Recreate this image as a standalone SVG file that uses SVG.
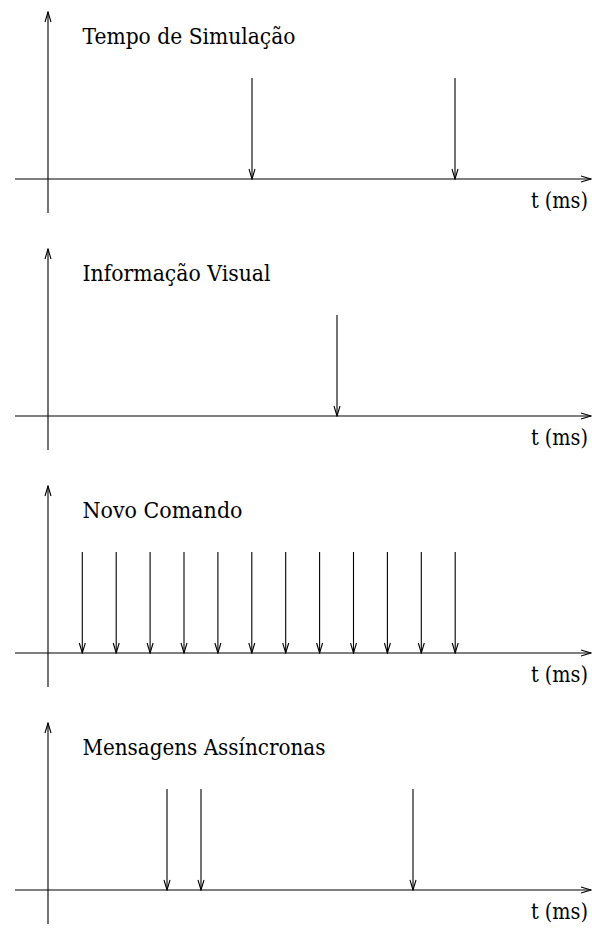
<svg xmlns="http://www.w3.org/2000/svg" width="592" height="928" viewBox="0 0 592 928">
<style>
.ln{stroke:#000;stroke-width:1.1;fill:none}
.ax{marker-end:url(#open)}
.ev{marker-end:url(#open)}
text{font-family:'DejaVu Serif','Liberation Serif',serif;font-size:21.5px;fill:#000}
.u{text-anchor:end}
</style>
<defs>
<marker id="open" markerUnits="userSpaceOnUse" viewBox="-11 -4 12 8" markerWidth="12" markerHeight="8" refX="0" refY="0" orient="auto">
<path d="M-10,-3 L0,0 L-10,3" fill="none" stroke="#000" stroke-width="1.1"/>
</marker>
</defs>
<rect width="592" height="928" fill="#fff"/>

<g id="panel-tempo-simulacao">
<g id="axes-1"><line class="ln ax" x1="48" y1="213" x2="48" y2="12"/><line class="ln ax" x1="15" y1="179" x2="591" y2="179"/></g>
<text x="82.5" y="44" textLength="213" lengthAdjust="spacingAndGlyphs">Tempo de Simulação</text>
<text class="u" x="588" y="208" textLength="57" lengthAdjust="spacingAndGlyphs">t (ms)</text>
<g id="events-1"><line class="ln ev" x1="252" y1="78" x2="252" y2="179"/><line class="ln ev" x1="455" y1="78" x2="455" y2="179"/></g>
</g>

<g id="panel-informacao-visual" transform="translate(0,237)">
<g id="axes-2"><line class="ln ax" x1="48" y1="213" x2="48" y2="12"/><line class="ln ax" x1="15" y1="179" x2="591" y2="179"/></g>
<text x="82.5" y="44" textLength="188" lengthAdjust="spacingAndGlyphs">Informação Visual</text>
<text class="u" x="588" y="208" textLength="57" lengthAdjust="spacingAndGlyphs">t (ms)</text>
<g id="events-2"><line class="ln ev" x1="337" y1="78" x2="337" y2="179"/></g>
</g>

<g id="panel-novo-comando" transform="translate(0,474)">
<g id="axes-3"><line class="ln ax" x1="48" y1="213" x2="48" y2="12"/><line class="ln ax" x1="15" y1="179" x2="591" y2="179"/></g>
<text x="82.5" y="44" textLength="160" lengthAdjust="spacingAndGlyphs">Novo Comando</text>
<text class="u" x="588" y="208" textLength="57" lengthAdjust="spacingAndGlyphs">t (ms)</text>
<g id="events-3">
<line class="ln ev" x1="82.3" y1="78" x2="82.3" y2="179"/>
<line class="ln ev" x1="116.2" y1="78" x2="116.2" y2="179"/>
<line class="ln ev" x1="150.1" y1="78" x2="150.1" y2="179"/>
<line class="ln ev" x1="184" y1="78" x2="184" y2="179"/>
<line class="ln ev" x1="217.9" y1="78" x2="217.9" y2="179"/>
<line class="ln ev" x1="251.8" y1="78" x2="251.8" y2="179"/>
<line class="ln ev" x1="285.7" y1="78" x2="285.7" y2="179"/>
<line class="ln ev" x1="319.6" y1="78" x2="319.6" y2="179"/>
<line class="ln ev" x1="353.5" y1="78" x2="353.5" y2="179"/>
<line class="ln ev" x1="387.4" y1="78" x2="387.4" y2="179"/>
<line class="ln ev" x1="421.3" y1="78" x2="421.3" y2="179"/>
<line class="ln ev" x1="455.2" y1="78" x2="455.2" y2="179"/>
</g>
</g>

<g id="panel-mensagens-assincronas" transform="translate(0,711)">
<g id="axes-4"><line class="ln ax" x1="48" y1="213" x2="48" y2="12"/><line class="ln ax" x1="15" y1="179" x2="591" y2="179"/></g>
<text x="82.5" y="44" textLength="243" lengthAdjust="spacingAndGlyphs">Mensagens Assíncronas</text>
<text class="u" x="588" y="208" textLength="57" lengthAdjust="spacingAndGlyphs">t (ms)</text>
<g id="events-4"><line class="ln ev" x1="167" y1="78" x2="167" y2="179"/><line class="ln ev" x1="201" y1="78" x2="201" y2="179"/><line class="ln ev" x1="413" y1="78" x2="413" y2="179"/></g>
</g>
</svg>
